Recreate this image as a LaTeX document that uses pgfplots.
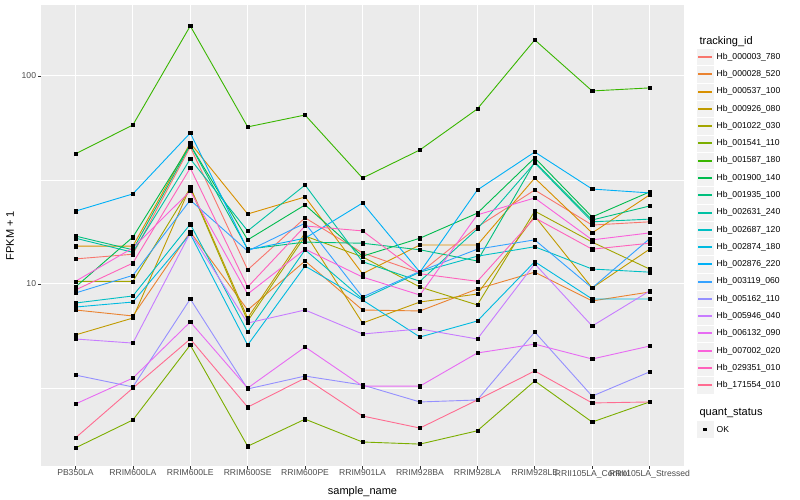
\documentclass[border=0pt]{standalone}
\usepackage{fontspec}
\setmainfont{Liberation Sans}
\usepackage{pgfplots}
\usepackage{pgfplotstable}
\pgfplotsset{compat=1.18}

% ggplot hue palette, 20 levels
\definecolor{s1}{HTML}{F8766D}
\definecolor{s2}{HTML}{EA8331}
\definecolor{s3}{HTML}{D89000}
\definecolor{s4}{HTML}{C09B00}
\definecolor{s5}{HTML}{A3A500}
\definecolor{s6}{HTML}{7CAE00}
\definecolor{s7}{HTML}{39B600}
\definecolor{s8}{HTML}{00BB4E}
\definecolor{s9}{HTML}{00BF7D}
\definecolor{s10}{HTML}{00C1A3}
\definecolor{s11}{HTML}{00BFC4}
\definecolor{s12}{HTML}{00BAE0}
\definecolor{s13}{HTML}{00B0F6}
\definecolor{s14}{HTML}{35A2FF}
\definecolor{s15}{HTML}{9590FF}
\definecolor{s16}{HTML}{C77CFF}
\definecolor{s17}{HTML}{E76BF3}
\definecolor{s18}{HTML}{FA62DB}
\definecolor{s19}{HTML}{FF62BC}
\definecolor{s20}{HTML}{FF6C91}
\definecolor{panel}{HTML}{EBEBEB}
\definecolor{grey20}{HTML}{333333}
\definecolor{grey30}{HTML}{4D4D4D}
\definecolor{keybg}{HTML}{F2F2F2}

% FPKM + 1, one row per sample, one column per tracking_id
\pgfplotstableread{
x  s1   s2   s3   s4   s5   s6   s7    s8   s9   s10  s11  s12  s13  s14  s15  s16  s17  s18  s19  s20
0  13.2 7.50 15.2 5.69 10.3 1.63 42.2  9.67 17.0 16.6 8.10 7.75 22.4 9.05 3.65 5.44 2.65 10.3 9.36 1.82
1  13.9 7.02 15.2 6.86 10.3 2.22 58.1  16.8 14.6 14.2 8.76 8.19 27.1 11.0 3.20 5.20 3.53 14.9 12.6 3.16
2  45.6 17.8 47.6 29.3 28.9 5.09 173.9 46.6 46.6 39.9 19.4 17.4 53.2 25.3 8.47 17.6 6.57 28.0 36.1 5.44
3  11.7 7.50 21.7 6.86 6.64 1.66 56.9  16.3 14.7 18.0 5.88 5.09 14.6 14.4 3.13 6.49 3.16 8.95 9.67 2.56
4  20.8 12.9 26.2 17.6 17.0 2.24 64.9  24.0 15.9 29.9 14.6 12.2 16.6 19.6 3.61 7.50 4.98 14.7 19.0 3.53
5  14.1 7.50 11.2 6.49 13.5 1.74 32.3  13.6 15.7 12.8 8.47 8.38 24.5 8.66 3.27 5.75 3.23 10.8 18.0 2.32
6  11.3 7.42 15.4 8.19 9.67 1.70 44.1  16.6 14.6 10.3 11.4 5.56 11.4 11.5 2.71 6.08 3.23 8.85 11.2 2.03
7  18.8 9.46 15.4 8.95 7.93 1.97 69.4  21.9 12.9 18.4 13.6 6.64 28.3 14.7 2.77 5.44 4.66 21.5 10.3 2.77
8  28.3 11.4 32.3 21.2 22.4 3.42 149.0 40.4 38.6 38.2 15.1 12.8 43.1 16.3 5.88 12.5 5.14 25.9 20.8 3.82
9  19.2 8.29 17.6 9.57 15.9 2.17 84.7  21.0 20.3 19.9 11.8 8.47 28.6 9.57 2.89 6.28 4.36 16.3 14.7 2.68
10 19.9 9.15 26.8 14.7 11.8 2.71 87.6  27.7 23.7 20.5 11.4 8.47 27.4 16.5 3.78 9.25 5.03 17.6 15.7 2.71
}\fpkm

\begin{document}
\begin{tikzpicture}[x=1pt,y=1pt]
\path[use as bounding box, fill=white] (0,0) rectangle (800,500);
\begin{axis}[
    at={(41pt,34pt)}, anchor=south west,
    scale only axis, width=643pt, height=461pt,
    xmin=-0.6, xmax=10.6,
    ymode=log, ymin=1.334, ymax=219.3,
    axis background/.style={fill=panel},
    axis line style={draw=none},
    xtick={0,...,10},
    xticklabels={PB350LA, RRIM600LA, RRIM600LE, RRIM600SE, RRIM600PE, RRIM901LA,
      RRIM928BA, RRIM928LA, RRIM928LE, RRII105LA\_Control, RRII105LA\_Stressed},
    ytick={10,100}, yticklabels={10,100},
    minor ytick={3.16228,31.6228},
    xmajorgrids, ymajorgrids, yminorgrids,
    major grid style={white, line width=1pt},
    minor grid style={white, line width=0.5pt},
    tick align=outside, xtick pos=bottom, ytick pos=left,
    major tick length=2.75pt, minor tick length=0pt,
    tick style={grey20, line width=0.5pt},
    ticklabel style={font=\fontsize{8.6}{10}\selectfont, text=grey30},
    xticklabel style={inner sep=1pt},
    yticklabel style={inner sep=2pt},
    xlabel={sample\_name}, ylabel={FPKM + 1},
    label style={font=\fontsize{11}{13}\selectfont},
    xlabel style={at={(axis description cs:0.5,-0.056)}, anchor=center},
    ylabel style={at={(axis description cs:-0.048,0.5)}, anchor=center},
  ]
  \pgfplotsinvokeforeach{1,...,20}{
    \addplot[s#1, line width=0.9pt, no markers] table[x=x, y=s#1] {\fpkm};
  }
  \pgfplotsinvokeforeach{1,...,20}{
    \addplot[only marks, mark=square*, mark size=1.6pt, black] table[x=x, y=s#1] {\fpkm};
  }
\end{axis}

% legend: tracking_id
\node[anchor=west, font=\fontsize{11}{13}\selectfont] at (696,458.5) {tracking\_id};
\foreach \n/\c [count=\i from 0] in {000003\_780/s1, 000028\_520/s2, 000537\_100/s3,
    000926\_080/s4, 001022\_030/s5, 001541\_110/s6, 001587\_180/s7, 001900\_140/s8,
    001935\_100/s9, 002631\_240/s10, 002687\_120/s11, 002874\_180/s12, 002876\_220/s13,
    003119\_060/s14, 005162\_110/s15, 005946\_040/s16, 006132\_090/s17, 007002\_020/s18,
    029351\_010/s19, 171554\_010/s20} {
  \pgfmathsetmacro{\yy}{443 - 17.28*\i}
  \pgfmathsetmacro{\yl}{round(\yy)}
  \fill[keybg, draw=white, line width=0.5pt] (696.5,\yy-8.64) rectangle (713.8,\yy+8.64);
  \fill[\c] (698,\yl-1) rectangle (712,\yl+1);
  \node[anchor=west, inner sep=0pt, font=\fontsize{8.6}{10}\selectfont] at (716.5,\yy) {Hb\_\n};
}
% legend: quant_status
\node[anchor=west, font=\fontsize{11}{13}\selectfont] at (696,86.5) {quant\_status};
\fill[keybg, draw=white, line width=0.5pt] (696.5,62.1) rectangle (713.8,79.4);
\fill[black] (703.4,69.1) rectangle (706.6,72.3);
\node[anchor=west, inner sep=0pt, font=\fontsize{8.6}{10}\selectfont] at (716.5,70.7) {OK};
\end{tikzpicture}
\end{document}
